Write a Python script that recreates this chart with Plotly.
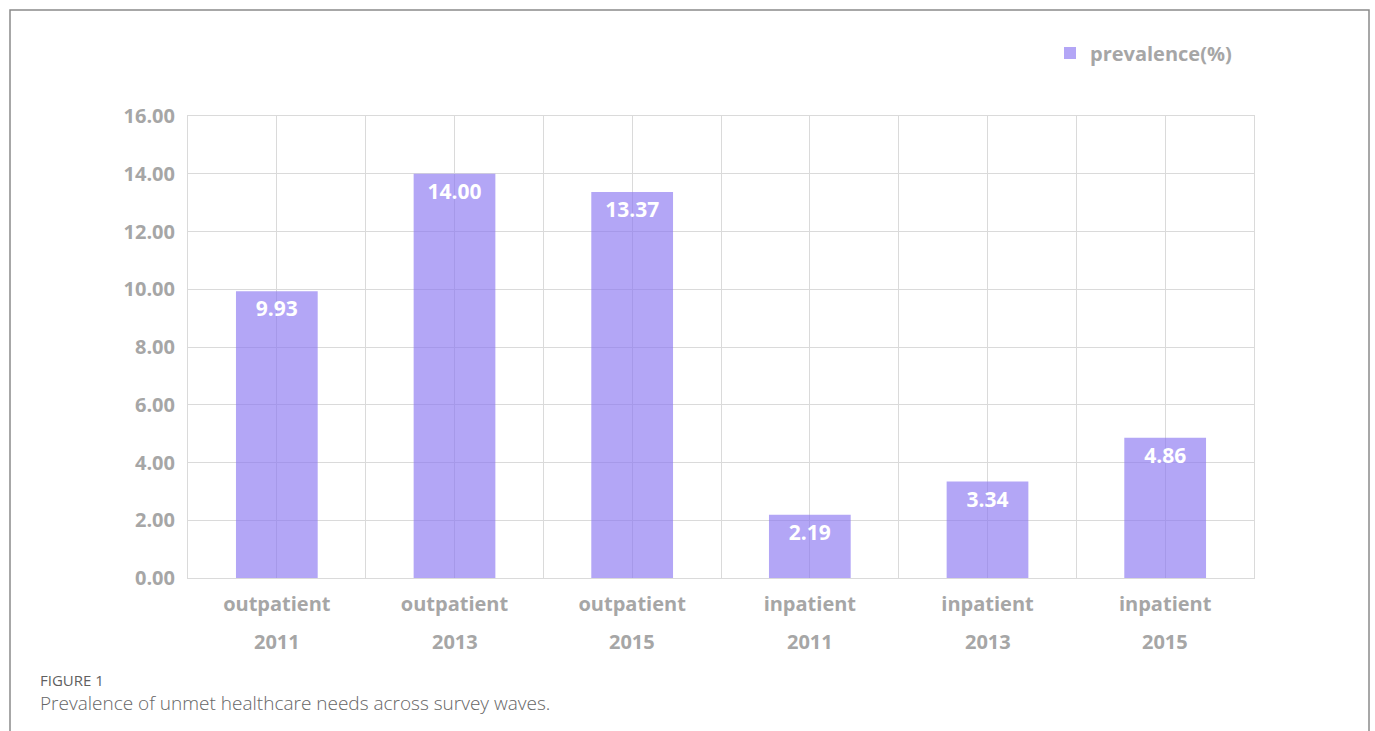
import plotly.graph_objects as go

groups = ["outpatient", "outpatient", "outpatient", "inpatient", "inpatient", "inpatient"]
years = ["2011", "2013", "2015", "2011", "2013", "2015"]
prevalence = [9.93, 14.00, 13.37, 2.19, 3.34, 4.86]
y_ticks = [0, 2, 4, 6, 8, 10, 12, 14, 16]
series_name = "prevalence(%)"

W, H = 1375, 731
L, R, T, B = 188, 1254, 116, 578
pw, ph = R - L, B - T

def px(x):
    return (x - L) / pw

def py(y):
    return (B - y) / ph

FONT = "Open Sans"
GRAY = "#a6a6a6"
xs = list(range(len(prevalence)))

fig = go.Figure()
fig.add_trace(go.Bar(
    x=xs, y=prevalence, name=series_name,
    width=0.46,
    marker=dict(color="rgba(140,120,242,0.66)", line=dict(width=0)),
    text=[f"{v:.2f}" for v in prevalence],
    textposition="inside", insidetextanchor="end",
    textfont=dict(family=FONT, size=21, color="white", weight="bold"),
    constraintext="none",
    showlegend=True,
))

for i, yr in enumerate(years):
    fig.add_annotation(x=i, xref="x", y=py(641), yref="paper", text=yr,
                       showarrow=False, yanchor="middle", xanchor="center",
                       font=dict(family=FONT, size=20, color=GRAY, weight="bold"))

fig.add_annotation(x=px(38), y=py(680), xref="paper", yref="paper", text="FIGURE 1",
                   showarrow=False, xanchor="left", yanchor="middle",
                   font=dict(family=FONT, size=15, color="#5f5f5f", weight=500))
fig.add_annotation(x=px(38), y=py(703), xref="paper", yref="paper",
                   text="Prevalence of unmet healthcare needs across survey waves.",
                   showarrow=False, xanchor="left", yanchor="middle",
                   font=dict(family=FONT, size=19, color="#666666", weight=300))

fig.add_shape(type="rect", xref="paper", yref="paper",
              x0=px(10), x1=px(1369), y0=py(745), y1=py(10),
              line=dict(color="#8a8a8a", width=1.5), fillcolor="rgba(0,0,0,0)", layer="below")

fig.update_layout(
    width=W, height=H, autosize=False,
    margin=dict(l=L, r=W - R, t=T, b=H - B),
    paper_bgcolor="white", plot_bgcolor="white",
    bargap=0.54,
    legend=dict(x=px(1050), y=py(53), xanchor="left", yanchor="middle",
                orientation="h", bgcolor="rgba(0,0,0,0)",
                font=dict(family=FONT, size=20, color=GRAY, weight="bold"),
                itemwidth=30),
    xaxis=dict(range=[-0.5, 5.5], tickvals=xs, ticktext=groups,
               showgrid=True, gridcolor="#dadada", gridwidth=1,
               minor=dict(tickvals=[i - 0.5 for i in range(len(xs) + 1)],
                          showgrid=True, gridcolor="#dadada", gridwidth=1, ticks=""),
               ticks="", ticklabelstandoff=8, zeroline=False,
               showline=True, linecolor="#dadada", linewidth=1, mirror=True,
               tickfont=dict(family=FONT, size=20, color=GRAY, weight="bold")),
    yaxis=dict(range=[0, 16], tickvals=y_ticks, ticktext=[f"{v:.2f}" for v in y_ticks],
               showgrid=True, gridcolor="#dadada", gridwidth=1, zeroline=False,
               ticks="", ticklabelstandoff=8,
               showline=True, linecolor="#dadada", linewidth=1, mirror=True,
               tickfont=dict(family=FONT, size=20, color=GRAY, weight="bold")),
)

fig.write_html("out.html")
